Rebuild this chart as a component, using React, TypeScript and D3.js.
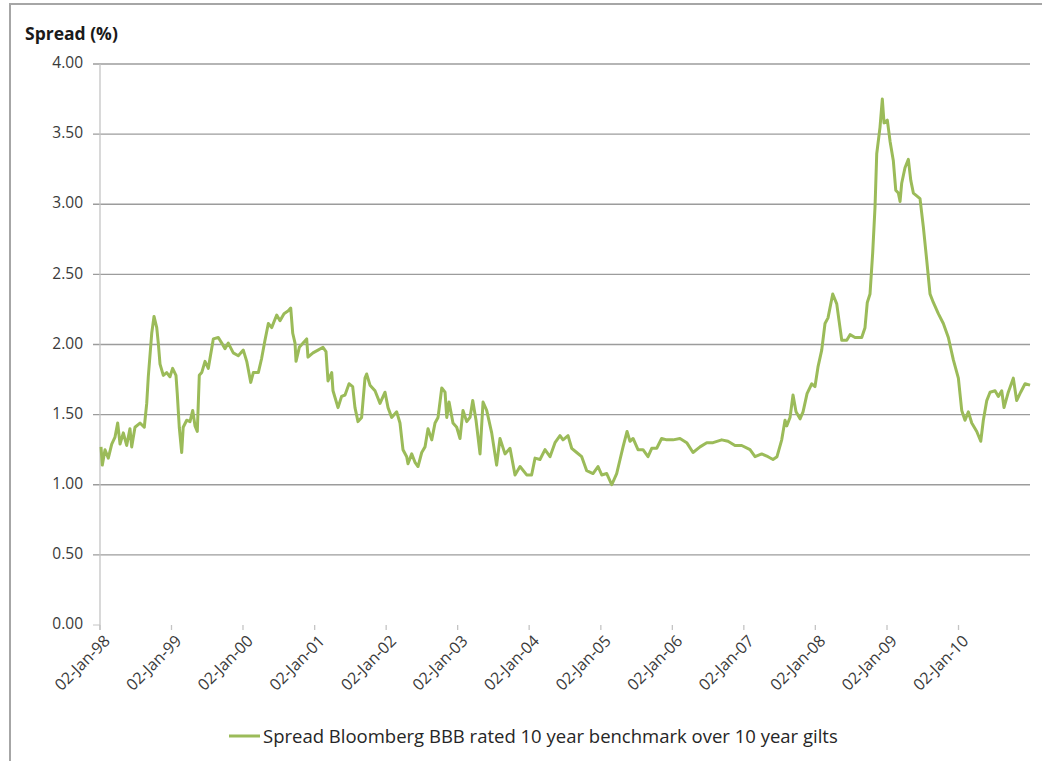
import React from "react";
import * as d3 from "d3";

// Decimal-year positions of the traced observations
const years: number[] = [
  1998.014, 1998.032, 1998.07, 1998.116, 1998.164, 1998.21, 1998.247, 1998.28, 1998.326, 1998.373,
  1998.419, 1998.443, 1998.489, 1998.559, 1998.619, 1998.653, 1998.675, 1998.723, 1998.755, 1998.793,
  1998.815, 1998.839, 1998.885, 1998.932, 1998.978, 1999.015, 1999.062, 1999.08, 1999.108, 1999.142,
  1999.163, 1999.212, 1999.258, 1999.296, 1999.328, 1999.36, 1999.388, 1999.422, 1999.468, 1999.514,
  1999.584, 1999.654, 1999.702, 1999.747, 1999.793, 1999.863, 1999.933, 2000.003, 2000.051, 2000.107,
  2000.143, 2000.213, 2000.259, 2000.306, 2000.353, 2000.4, 2000.47, 2000.516, 2000.572, 2000.632,
  2000.666, 2000.694, 2000.726, 2000.74, 2000.786, 2000.889, 2000.907, 2000.977, 2001.047, 2001.117,
  2001.159, 2001.187, 2001.239, 2001.257, 2001.327, 2001.377, 2001.425, 2001.481, 2001.532, 2001.564,
  2001.606, 2001.657, 2001.704, 2001.727, 2001.774, 2001.844, 2001.914, 2001.984, 2002.026, 2002.077,
  2002.147, 2002.193, 2002.235, 2002.287, 2002.305, 2002.357, 2002.403, 2002.445, 2002.497, 2002.543,
  2002.585, 2002.637, 2002.683, 2002.725, 2002.777, 2002.823, 2002.847, 2002.879, 2002.934, 2002.986,
  2003.032, 2003.074, 2003.126, 2003.172, 2003.21, 2003.256, 2003.312, 2003.354, 2003.405, 2003.475,
  2003.544, 2003.591, 2003.661, 2003.731, 2003.801, 2003.871, 2003.964, 2004.033, 2004.081, 2004.15,
  2004.22, 2004.29, 2004.36, 2004.43, 2004.472, 2004.542, 2004.593, 2004.663, 2004.733, 2004.803,
  2004.891, 2004.961, 2005.013, 2005.083, 2005.153, 2005.222, 2005.269, 2005.311, 2005.367, 2005.408,
  2005.451, 2005.52, 2005.59, 2005.66, 2005.712, 2005.782, 2005.85, 2005.921, 2006.009, 2006.107,
  2006.201, 2006.289, 2006.387, 2006.481, 2006.569, 2006.69, 2006.778, 2006.876, 2006.97, 2007.086,
  2007.156, 2007.249, 2007.337, 2007.407, 2007.463, 2007.529, 2007.575, 2007.599, 2007.645, 2007.687,
  2007.729, 2007.785, 2007.827, 2007.883, 2007.949, 2007.994, 2008.036, 2008.088, 2008.134, 2008.176,
  2008.242, 2008.298, 2008.33, 2008.368, 2008.438, 2008.484, 2008.554, 2008.647, 2008.693, 2008.725,
  2008.763, 2008.8, 2008.833, 2008.857, 2008.903, 2008.935, 2008.959, 2009.005, 2009.043, 2009.089,
  2009.123, 2009.159, 2009.183, 2009.206, 2009.252, 2009.299, 2009.333, 2009.369, 2009.416, 2009.462,
  2009.508, 2009.556, 2009.602, 2009.648, 2009.718, 2009.788, 2009.858, 2009.928, 2009.998, 2010.045,
  2010.091, 2010.138, 2010.185, 2010.255, 2010.311, 2010.347, 2010.395, 2010.441, 2010.511, 2010.557,
  2010.604, 2010.636, 2010.696, 2010.766, 2010.813, 2010.869, 2010.93, 2011.0,
];

// Spread (%) at each of those positions
const spread: number[] = [
  1.27, 1.14, 1.25, 1.19, 1.29, 1.34, 1.44, 1.29, 1.37, 1.28,
  1.4, 1.27, 1.41, 1.44, 1.41, 1.58, 1.77, 2.08, 2.2, 2.12,
  2.01, 1.86, 1.78, 1.8, 1.77, 1.83, 1.78, 1.65, 1.41, 1.23,
  1.41, 1.46, 1.45, 1.53, 1.42, 1.38, 1.78, 1.8, 1.88, 1.83,
  2.04, 2.05, 2.01, 1.97, 2.01, 1.94, 1.92, 1.96, 1.88, 1.73,
  1.8, 1.8, 1.9, 2.03, 2.15, 2.12, 2.21, 2.17, 2.22, 2.24,
  2.26, 2.08, 2.01, 1.88, 1.98, 2.04, 1.91, 1.94, 1.96, 1.98,
  1.95, 1.74, 1.8, 1.67, 1.55, 1.63, 1.64, 1.72, 1.7, 1.55,
  1.45, 1.48, 1.76, 1.79, 1.71, 1.67, 1.58, 1.66, 1.55, 1.48,
  1.52, 1.44, 1.25, 1.2, 1.15, 1.22, 1.16, 1.13, 1.23, 1.27,
  1.4, 1.32, 1.44, 1.48, 1.69, 1.66, 1.48, 1.59, 1.44, 1.41,
  1.33, 1.53, 1.45, 1.48, 1.6, 1.46, 1.22, 1.59, 1.53, 1.37,
  1.14, 1.33, 1.22, 1.26, 1.07, 1.13, 1.07, 1.07, 1.19, 1.18,
  1.25, 1.2, 1.3, 1.35, 1.32, 1.35, 1.26, 1.23, 1.2, 1.1,
  1.08, 1.13, 1.07, 1.08, 1.0, 1.08, 1.18, 1.27, 1.38, 1.31,
  1.33, 1.25, 1.25, 1.2, 1.26, 1.26, 1.33, 1.32, 1.32, 1.33,
  1.3, 1.23, 1.27, 1.3, 1.3, 1.32, 1.31, 1.28, 1.28, 1.25,
  1.2, 1.22, 1.2, 1.18, 1.2, 1.32, 1.46, 1.42, 1.48, 1.64,
  1.52, 1.47, 1.52, 1.65, 1.72, 1.7, 1.84, 1.96, 2.15, 2.19,
  2.36, 2.29, 2.17, 2.03, 2.03, 2.07, 2.05, 2.05, 2.12, 2.3,
  2.36, 2.65, 2.98, 3.36, 3.55, 3.75, 3.58, 3.6, 3.45, 3.31,
  3.1, 3.08, 3.02, 3.15, 3.26, 3.32, 3.17, 3.08, 3.06, 3.04,
  2.84, 2.6, 2.36, 2.3, 2.22, 2.15, 2.05, 1.89, 1.76, 1.53,
  1.46, 1.52, 1.44, 1.38, 1.31, 1.46, 1.6, 1.66, 1.67, 1.63,
  1.67, 1.55, 1.66, 1.76, 1.6, 1.66, 1.72, 1.71,
];

const tickYears: number[] = [1998, 1999, 2000, 2001, 2002, 2003, 2004, 2005, 2006, 2007, 2008, 2009, 2010];
const tickLabels: string[] = [
  "02-Jan-98", "02-Jan-99", "02-Jan-00", "02-Jan-01", "02-Jan-02", "02-Jan-03", "02-Jan-04",
  "02-Jan-05", "02-Jan-06", "02-Jan-07", "02-Jan-08", "02-Jan-09", "02-Jan-10",
];
const yTicks: number[] = [0, 0.5, 1, 1.5, 2, 2.5, 3, 3.5, 4];

const seriesName = "Spread Bloomberg BBB rated 10 year benchmark over 10 year gilts";
const yTitle = "Spread (%)";

const DAY = 86400000;
const start = new Date(1998, 0, 2);
const toDate = (t: number) => new Date(start.getTime() + (t - 1998) * 365.25 * DAY);

export default function App() {
  const W = 1042;
  const H = 761;
  const left = 100;
  const right = 1030;
  const top = 64;
  const bottom = 625;

  const x = d3.scaleTime().domain([start, new Date(2011, 0, 2)]).range([left, right]);
  const y = d3.scaleLinear().domain([0, 4]).range([bottom, top]);

  const pts: [Date, number][] = years.map((t, i) => [toDate(t), spread[i]]);
  const line = d3
    .line<[Date, number]>()
    .x((d) => x(d[0]))
    .y((d) => y(d[1]));

  const font = "'Open Sans', 'DejaVu Sans', sans-serif";
  const green = "#9bbb59";

  return (
    <svg
      width={W}
      height={H}
      style={{ position: "absolute", left: 0, top: 0, background: "#fff" }}
      fontFamily={font}
    >
      <rect x={0} y={0} width={W} height={H} fill="#fff" />
      {/* outer chart frame (right and bottom edges fall outside) */}
      <rect x={10} y={4} width={W + 20} height={H + 20} fill="none" stroke="#a6a6a6" strokeWidth={2} />

      {/* gridlines */}
      {yTicks
        .filter((v) => v > 0)
        .map((v) => (
          <line key={"g" + v} x1={93} x2={right} y1={y(v)} y2={y(v)} stroke="#9c9c9c" strokeWidth={1.3} />
        ))}
      <line x1={93} x2={100} y1={y(0)} y2={y(0)} stroke="#c4c4c4" strokeWidth={1} />

      {/* y axis line */}
      <line x1={left} x2={left} y1={top} y2={bottom + 5} stroke="#c4c4c4" strokeWidth={1.3} />

      {/* y tick labels */}
      {yTicks.map((v) => (
        <text
          key={"yl" + v}
          x={83}
          y={y(v)}
          textAnchor="end"
          dominantBaseline="middle"
          fontSize={15.5}
          fill="#3a3a3a"
        >
          {d3.format(".2f")(v)}
        </text>
      ))}

      {/* x ticks and labels */}
      {tickYears.map((yr, i) => {
        const tx = x(new Date(yr, 0, 2));
        return (
          <g key={"xt" + yr}>
            <line x1={tx} x2={tx} y1={bottom} y2={bottom + 5} stroke="#c4c4c4" strokeWidth={1.3} />
            <text
              transform={`translate(${tx + 8},${bottom + 14}) rotate(-45)`}
              textAnchor="end"
              dominantBaseline="middle"
              fontSize={16}
              fill="#3a3a3a"
            >
              {tickLabels[i]}
            </text>
          </g>
        );
      })}

      {/* series */}
      <path d={line(pts) ?? ""} fill="none" stroke={green} strokeWidth={3} strokeLinejoin="round" />

      {/* y title */}
      <text x={25} y={39.5} fontSize={17.5} fontWeight="bold" fill="#1a1a1a">
        {yTitle}
      </text>

      {/* legend */}
      <line x1={229} x2={260} y1={736} y2={736} stroke={green} strokeWidth={3} />
      <text x={263} y={742.5} fontSize={18.5} fill="#262626">
        {seriesName}
      </text>
    </svg>
  );
}
